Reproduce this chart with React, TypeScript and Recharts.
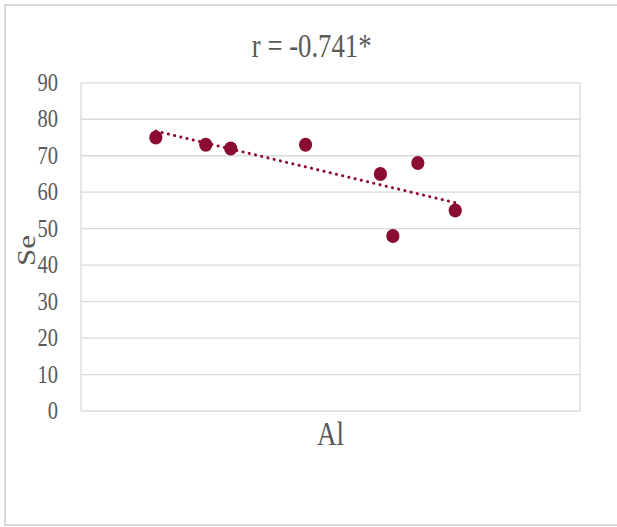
import React from "react";
import {
  ScatterChart,
  Scatter,
  XAxis,
  YAxis,
  CartesianGrid,
  ReferenceLine,
} from "recharts";

// Al content (x) and Se content (y) for each sample
const alValues = [0.6, 1.0, 1.2, 1.8, 2.4, 2.7, 2.5, 3.0];
const seValues = [75, 73, 72, 73, 65, 68, 48, 55];

const xTicks = [0, 1, 2, 3, 4];
const yTicks = [0, 10, 20, 30, 40, 50, 60, 70, 80, 90];

const titleText = "r = -0.741*";
const xLabel = "Al";
const yLabel = "Se";

const points = alValues.map((x, i) => ({ x, y: seValues[i] }));

// Least-squares linear trend through the samples
function linearFit(xs: number[], ys: number[]) {
  const n = xs.length;
  const mx = xs.reduce((a, b) => a + b, 0) / n;
  const my = ys.reduce((a, b) => a + b, 0) / n;
  let sxy = 0;
  let sxx = 0;
  for (let i = 0; i < n; i++) {
    sxy += (xs[i] - mx) * (ys[i] - my);
    sxx += (xs[i] - mx) * (xs[i] - mx);
  }
  const slope = sxy / sxx;
  return { slope, intercept: my - slope * mx };
}

const fit = linearFit(alValues, seValues);
const xMin = Math.min(...alValues);
const xMax = Math.max(...alValues);
const trendSegment = [
  { x: xMin, y: fit.intercept + fit.slope * xMin },
  { x: xMax, y: fit.intercept + fit.slope * xMax },
];

const TEXT = "#595959";
const FONT = "'Liberation Serif', 'Times New Roman', serif";
const GRID = "#d9d9d9";
const MARK = "#8B0C31";
const SQUEEZE = 0.8;

const YTick = (props: any) => {
  const { x, y, payload } = props;
  return (
    <text
      transform={`translate(${x},${y}) scale(0.79,1)`}
      textAnchor="end"
      dy={8}
      fontSize={26}
      fontFamily={FONT}
      fill={TEXT}
    >
      {payload.value}
    </text>
  );
};

export default function App() {
  return (
    <div
      style={{
        position: "absolute",
        left: 0,
        top: 0,
        width: 617,
        height: 527,
        overflow: "hidden",
        background: "#fff",
      }}
    >
      <div
        style={{
          position: "absolute",
          left: 4,
          top: 4,
          width: 700,
          height: 522,
          boxSizing: "border-box",
          border: "2px solid #d9d9d9",
        }}
      />
      <div style={{ position: "absolute", left: 0, top: 0 }}>
        <ScatterChart
          width={617}
          height={527}
          margin={{ top: 82.8, right: 37, bottom: 116, left: 21 }}
        >
          <CartesianGrid stroke={GRID} strokeWidth={1.3} />
          <XAxis
            type="number"
            dataKey="x"
            domain={[0, 4]}
            ticks={xTicks}
            tick={false}
            tickLine={false}
            axisLine={false}
            height={0}
          />
          <YAxis
            type="number"
            dataKey="y"
            domain={[0, 90]}
            ticks={yTicks}
            width={60}
            tick={<YTick />}
            tickLine={false}
            axisLine={false}
            tickSize={0}
            tickMargin={23}
            interval={0}
          />
          <ReferenceLine
            segment={trendSegment}
            stroke={MARK}
            strokeWidth={3}
            strokeDasharray="0.1 6.3"
            strokeLinecap="round"
          />
          <Scatter
            data={points}
            fill={MARK}
            isAnimationActive={false}
            shape={(p: any) => (
              <ellipse cx={p.cx} cy={p.cy} rx={6.6} ry={7} fill={MARK} />
            )}
          />
        </ScatterChart>
      </div>
      <svg
        width={617}
        height={527}
        style={{ position: "absolute", left: 0, top: 0, pointerEvents: "none" }}
      >
        <text
          transform={`translate(311.7,57.3) scale(0.81,1)`}
          textAnchor="middle"
          fontSize={33}
          fontFamily={FONT}
          fill={TEXT}
        >
          {titleText}
        </text>
        <text
          transform={`translate(330.5,445) scale(0.82,1)`}
          textAnchor="middle"
          fontSize={33}
          fontFamily={FONT}
          fill={TEXT}
        >
          {xLabel}
        </text>
        <text
          transform={`translate(35,250.5) scale(${SQUEEZE},1) rotate(-90)`}
          textAnchor="middle"
          fontSize={31}
          fontFamily={FONT}
          fill={TEXT}
        >
          {yLabel}
        </text>
      </svg>
    </div>
  );
}
